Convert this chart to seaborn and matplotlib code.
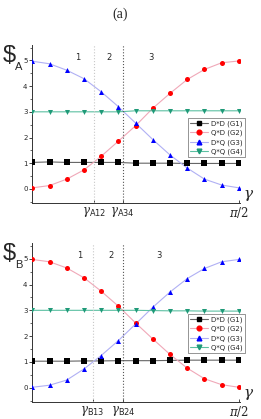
import numpy as np
import pandas as pd
import matplotlib
matplotlib.use("Agg")
import matplotlib.pyplot as plt
import seaborn as sns

sns.set_style("white")
plt.rcParams['font.family'] = ['DejaVu Sans']

idx = list(range(13))  # gamma = i * pi/24
series_names = ["D*D (G1)", "Q*D (G2)", "D*Q (G3)", "Q*Q (G4)"]

a_g1 = [1.03, 1.05, 1.03, 1.03, 1.03, 1.03, 1.00, 1.00, 1.00, 0.99, 0.99, 0.99, 0.99]
a_g2 = [0.04, 0.13, 0.38, 0.74, 1.27, 1.86, 2.46, 3.14, 3.72, 4.26, 4.65, 4.91, 4.98]
a_g3 = [4.97, 4.87, 4.62, 4.29, 3.78, 3.20, 2.56, 1.92, 1.32, 0.81, 0.38, 0.15, 0.04]
a_g4 = [3.00, 3.00, 3.00, 3.00, 3.00, 3.00, 3.04, 3.04, 3.04, 3.04, 3.04, 3.04, 3.04]

b_g1 = [1.03, 1.03, 1.03, 1.04, 1.04, 1.05, 1.05, 1.05, 1.06, 1.07, 1.07, 1.07, 1.07]
b_g2 = [4.97, 4.88, 4.64, 4.26, 3.74, 3.16, 2.51, 1.89, 1.29, 0.76, 0.35, 0.12, 0.02]
b_g3 = [0.02, 0.10, 0.30, 0.73, 1.25, 1.83, 2.47, 3.12, 3.71, 4.23, 4.62, 4.88, 4.97]
b_g4 = [3.00, 3.00, 3.00, 3.00, 3.00, 3.00, 3.00, 2.99, 2.98, 2.98, 2.97, 2.97, 2.97]

a_lines = [3.6, 5.24]   # in units of pi/24
b_lines = [3.5, 5.28]
a_tick_labels = [r"$\gamma_{\mathsf{A12}}$", r"$\gamma_{\mathsf{A34}}$", r"$\pi/2$"]
b_tick_labels = [r"$\gamma_{\mathsf{B13}}$", r"$\gamma_{\mathsf{B24}}$", r"$\pi/2$"]
region_labels = ["1", "2", "3"]
a_region_x = [2.65, 4.46, 6.9]
b_region_x = [2.77, 4.57, 7.36]

marker_colors = ["#000000", "#ff0000", "#0000ff", "#1f9a78"]
line_colors = ["#666666", "#f0a8b8", "#b0b0f4", "#5cc0a2"]
markers = ["s", "o", "^", "v"]

plt.rcParams['mathtext.fontset'] = 'dejavuserif'

fig = plt.figure(figsize=(2.61, 4.19), dpi=100)
ax_a = fig.add_axes([0.124, 0.5155, 0.796, 0.377])
ax_b = fig.add_axes([0.124, 0.0406, 0.796, 0.379])

def draw(ax, vals, vlines, ticklabels, region_x, ylab, leg_anchor):
    gam = np.array(idx) * np.pi / 24
    rows = []
    for name, v in zip(series_names, vals):
        for g, y in zip(gam, v):
            rows.append({"gamma": g, "val": y, "series": name})
    df = pd.DataFrame(rows)
    handles = []
    for name, mc, lc, mk in zip(series_names, marker_colors, line_colors, markers):
        sub = df[df.series == name]
        sns.lineplot(data=sub, x="gamma", y="val", ax=ax, color=lc, lw=0.8, legend=False)
        sns.scatterplot(data=sub, x="gamma", y="val", ax=ax, color=mc, marker=mk,
                        s=13, linewidth=0, legend=False, zorder=3)
        h, = ax.plot([], [], color=lc, lw=0.8, marker=mk, markerfacecolor=mc,
                     markeredgecolor=mc, markersize=3.4)
        handles.append(h)
    ax.axvline(vlines[0] * np.pi / 24, color="#c8c8c8", ls=":", lw=0.8)
    ax.axvline(vlines[1] * np.pi / 24, color="#555555", ls=":", lw=0.8)
    ax.set_xlim(0, np.pi / 2 * 1.006)
    ax.set_ylim(-0.55, 5.6)
    ax.set_xticks([vlines[0] * np.pi / 24, vlines[1] * np.pi / 24, np.pi / 2])
    ax.set_xticklabels(ticklabels, fontsize=8.5)
    ax.set_yticks([0, 1, 2, 3, 4, 5])
    ax.set_yticks([-0.5, 0.5, 1.5, 2.5, 3.5, 4.5, 5.5], minor=True)
    ax.tick_params(axis="y", which="major", direction="out", length=2.5, width=0.6,
                   labelsize=5, pad=1, left=True)
    ax.tick_params(axis="y", which="minor", direction="out", length=1.5, width=0.5, left=True)
    ax.tick_params(axis="x", which="major", direction="in", length=2.5, width=0.6,
                   pad=1.5, bottom=True)
    ax.set_xlabel("")
    ax.set_ylabel("")
    for s in ["top", "right"]:
        ax.spines[s].set_visible(False)
    for s in ["left", "bottom"]:
        ax.spines[s].set_color("#333333")
        ax.spines[s].set_linewidth(0.7)
    for lab, xr in zip(region_labels, region_x):
        ax.text(xr * np.pi / 24, 5.12, lab, fontsize=6, ha="center", va="center")
    ax.text(-0.11, 0.93, "$", fontsize=17, transform=ax.transAxes, ha="center", va="center",
            family="Liberation Sans")
    ax.text(-0.065, 0.86, ylab, fontsize=8, transform=ax.transAxes, ha="center", va="center",
            family="Liberation Sans")
    ax.text(1.015, 0.0, r"$\gamma$", fontsize=11, transform=ax.transAxes, ha="left", va="bottom")
    leg = ax.legend(handles, series_names, loc="upper left", bbox_to_anchor=leg_anchor,
                    fontsize=5, frameon=True, handlelength=2.5, handletextpad=0.4,
                    borderpad=0.35, labelspacing=0.4, borderaxespad=0, fancybox=False)
    leg.get_frame().set_edgecolor("#444444")
    leg.get_frame().set_linewidth(0.5)

draw(ax_a, [a_g1, a_g2, a_g3, a_g4], a_lines, a_tick_labels, a_region_x, "A", (0.749, 0.538))
draw(ax_b, [b_g1, b_g2, b_g3, b_g4], b_lines, b_tick_labels, b_region_x, "B", (0.749, 0.553))

fig.text(0.46, 0.965, "(a)", fontsize=10, ha="center", va="center", family="Liberation Serif")

fig.savefig("out.png", dpi=100)
